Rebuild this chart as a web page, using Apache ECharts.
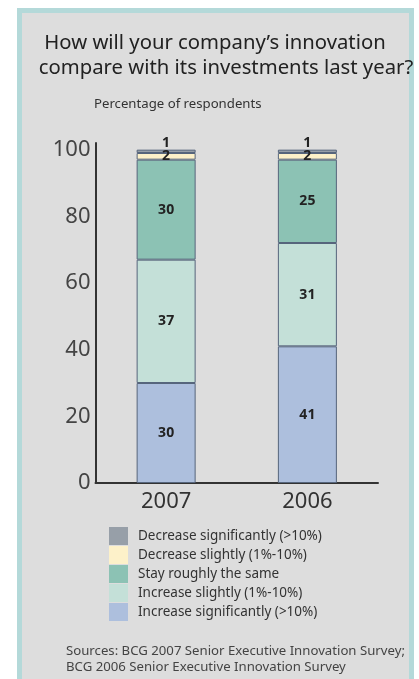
<!DOCTYPE html>
<html>
<head>
<meta charset="utf-8">
<script src="https://cdn.jsdelivr.net/npm/echarts@6/dist/echarts.min.js"></script>
<style>
  html, body { margin: 0; padding: 0; background: #fff; }
  #chart { width: 419px; height: 679px; }
</style>
</head>
<body>
<div id="chart"></div>
<script>
// Data, bottom segment first
const years = ['2007', '2006']
const seriesNames = [
  'Increase significantly (>10%)',
  'Increase slightly (1%-10%)',
  'Stay roughly the same',
  'Decrease slightly (1%-10%)',
  'Decrease significantly (>10%)',
]
const increaseSig = [30, 41]
const increaseSlight = [37, 31]
const staysame = [30, 25]
const decreaseSlight = [2, 2]
const decreaseSig = [1, 1]
const yTicks = [0, 20, 40, 60, 80, 100]

const COLORS = ['#adbfdd', '#c4e0d8', '#8cc2b4', '#fdf1c9', '#979fa8']
const FONT = '"Noto Sans", "Open Sans", sans-serif'

const values = [increaseSig, increaseSlight, staysame, decreaseSlight, decreaseSig]

const chart = echarts.init(document.getElementById('chart'))

chart.setOption({
  animation: false,
  textStyle: { fontFamily: FONT },
  graphic: [
    {
      type: 'rect',
      z: -10,
      silent: true,
      shape: { x: 19.5, y: 10.5, width: 392, height: 700 },
      style: { fill: '#dddddd', stroke: '#b4d9d9', lineWidth: 5 },
    },
    {
      type: 'text',
      silent: true,
      x: 215,
      y: 43,
      style: {
        text: 'How will your company\u2019s innovation',
        align: 'center',
        verticalAlign: 'middle',
        fontSize: 20.3,
        fontFamily: FONT,
        fill: '#222',
      },
    },
    {
      type: 'text',
      silent: true,
      x: 226,
      y: 68,
      style: {
        text: 'compare with its investments last year?',
        align: 'center',
        verticalAlign: 'middle',
        fontSize: 20.3,
        fontFamily: FONT,
        fill: '#222',
      },
    },
  ],
  title: [
    {
      text: 'Percentage of respondents',
      left: 94,
      top: 98,
      padding: 0,
      textStyle: { fontSize: 13.2, fontWeight: 'normal', color: '#333', fontFamily: FONT },
    },
    {
      text: 'Sources: BCG 2007 Senior Executive Innovation Survey;\nBCG 2006 Senior Executive Innovation Survey',
      left: 66,
      top: 643,
      padding: 0,
      textStyle: { fontSize: 13.2, fontWeight: 'normal', color: '#444', lineHeight: 16, fontFamily: FONT },
    },
  ],
  legend: {
    orient: 'vertical',
    left: 109,
    top: 527,
    padding: 0,
    icon: 'rect',
    itemWidth: 19,
    itemHeight: 18,
    itemGap: 1,
    data: seriesNames.slice().reverse(),
    itemStyle: { borderWidth: 0 },
    textStyle: { fontSize: 13.5, color: '#333', padding: [0, 0, 0, 5] },
    selectedMode: false,
  },
  grid: { left: 95.5, right: 41, top: 143, bottom: 196 },
  xAxis: {
    type: 'category',
    data: years,
    axisLine: { lineStyle: { color: '#333', width: 2 } },
    axisTick: { show: false },
    axisLabel: { fontSize: 22, color: '#333', margin: 8 },
  },
  yAxis: {
    type: 'value',
    min: 0,
    max: 102,
    interval: 20,
    axisLine: { show: true, lineStyle: { color: '#333', width: 2 } },
    axisTick: { show: false },
    splitLine: { show: false },
    axisLabel: {
      fontSize: 22,
      color: '#444',
      margin: 5,
      padding: [0, 0, 5, 0],
      formatter: (v) => (yTicks.includes(v) ? String(v) : ''),
    },
  },
  series: seriesNames.map((name, i) => ({
    name,
    type: 'bar',
    stack: 'total',
    barWidth: 59,
    data: values[i],
    itemStyle: { color: COLORS[i], borderColor: '#56657c', borderWidth: 1 },
    label: {
      show: true,
      position: i === 4 ? 'top' : 'inside',
      distance: i === 4 ? 0 : 5,
      fontSize: 14,
      fontWeight: 'bold',
      color: '#222',
    },
  })),
})
</script>
</body>
</html>
